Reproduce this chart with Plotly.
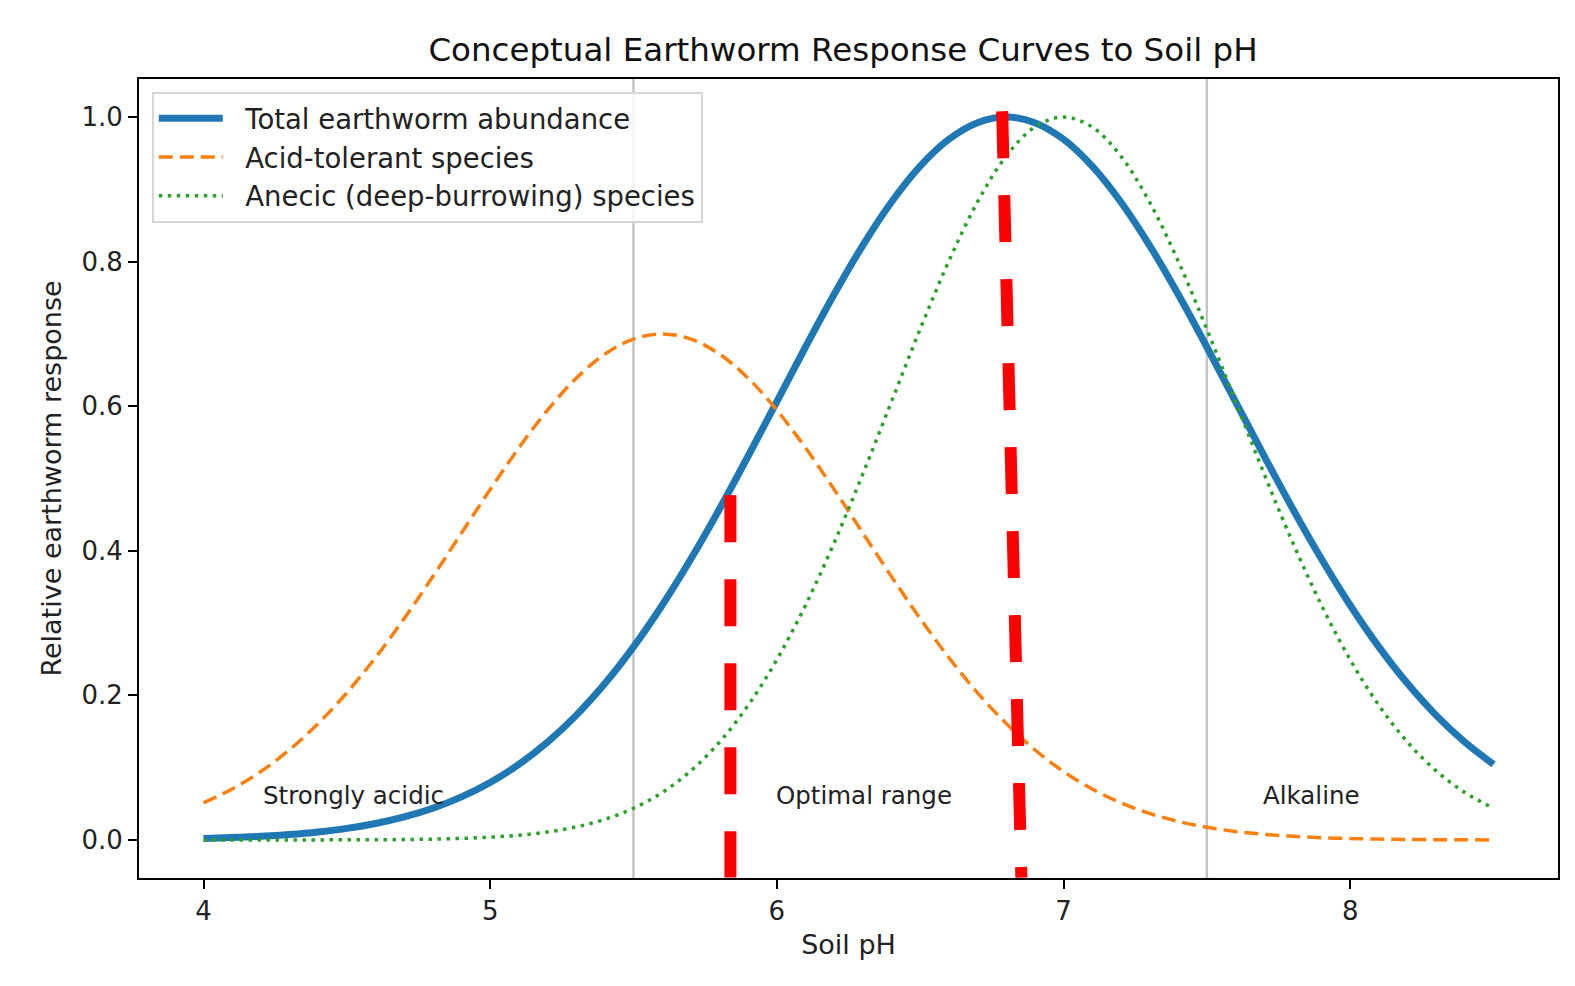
import plotly.graph_objects as go

# ---- data ----
ph = [round(4.0 + 0.1 * i, 1) for i in range(46)]  # 4.0 ... 8.5
total_abundance = [0.0022, 0.0034, 0.0051, 0.0076, 0.0111, 0.0160, 0.0228, 0.0319, 0.0439, 0.0596,
                   0.0796, 0.1046, 0.1353, 0.1724, 0.2163, 0.2671, 0.3247, 0.3886, 0.4578, 0.5311,
                   0.6065, 0.6819, 0.7548, 0.8226, 0.8825, 0.9321, 0.9692, 0.9922, 1.0000, 0.9922,
                   0.9692, 0.9321, 0.8825, 0.8226, 0.7548, 0.6819, 0.6065, 0.5311, 0.4578, 0.3886,
                   0.3247, 0.2671, 0.2163, 0.1724, 0.1353, 0.1046]
acid_tolerant = [0.0514, 0.0705, 0.0947, 0.1248, 0.1611, 0.2036, 0.2523, 0.3063, 0.3643, 0.4246,
                 0.4848, 0.5424, 0.5946, 0.6386, 0.6720, 0.6929, 0.7000, 0.6929, 0.6720, 0.6386,
                 0.5946, 0.5424, 0.4848, 0.4246, 0.3643, 0.3063, 0.2523, 0.2036, 0.1611, 0.1248,
                 0.0947, 0.0705, 0.0514, 0.0367, 0.0257, 0.0176, 0.0118, 0.0078, 0.0050, 0.0032,
                 0.0020, 0.0012, 0.0007, 0.0004, 0.0002, 0.0001]
anecic = [0.0000, 0.0000, 0.0000, 0.0000, 0.0001, 0.0002, 0.0003, 0.0006, 0.0012, 0.0022,
          0.0039, 0.0066, 0.0111, 0.0181, 0.0286, 0.0439, 0.0657, 0.0956, 0.1353, 0.1863,
          0.2494, 0.3247, 0.4111, 0.5063, 0.6065, 0.7066, 0.8007, 0.8825, 0.9460, 0.9862,
          1.0000, 0.9862, 0.9460, 0.8825, 0.8007, 0.7066, 0.6065, 0.5063, 0.4111, 0.3247,
          0.2494, 0.1863, 0.1353, 0.0956, 0.0657, 0.0439]

series_names = ["Total earthworm abundance", "Acid-tolerant species",
                "Anecic (deep-burrowing) species"]

zone_bounds = [5.5, 7.5]
zone_labels = ["Strongly acidic", "Optimal range", "Alkaline"]
zone_label_x = [4.2, 5.99, 7.69]
zone_label_y = 0.062

# hand-drawn red dashed marks (start x, start y, end x, end y)
red_mark_1 = [5.838, 0.477, 5.838, -0.052]
red_mark_2 = [6.786, 1.008, 6.853, -0.052]

x_ticks = [4, 5, 6, 7, 8]
y_ticks = [0.0, 0.2, 0.4, 0.6, 0.8, 1.0]

FONT = "DejaVu Sans"
TXT = "#222222"
OFF = 8  # page body offset of the browser
GAP = "\u00a0\u00a0"  # small gap between legend sample and label

fig = go.Figure()

fig.add_trace(go.Scatter(x=ph, y=total_abundance, mode="lines", name=GAP + series_names[0],
                         line=dict(color="#1f77b4", width=7, shape="spline")))
fig.add_trace(go.Scatter(x=ph, y=acid_tolerant, mode="lines", name=GAP + series_names[1],
                         line=dict(color="#ff7f0e", width=3.5, dash="14px,7px", shape="spline")))
fig.add_trace(go.Scatter(x=ph, y=anecic, mode="lines", name=GAP + series_names[2],
                         line=dict(color="#2ca02c", width=3.5, dash="3.5px,5.5px", shape="spline")))

for b in zone_bounds:
    fig.add_shape(type="line", xref="x", yref="paper", x0=b, x1=b, y0=0, y1=1,
                  line=dict(color="#c4c4c4", width=2.5), layer="below")

for lbl, lx in zip(zone_labels, zone_label_x):
    fig.add_annotation(x=lx, y=zone_label_y, text=lbl, showarrow=False,
                       xanchor="left", yanchor="middle",
                       font=dict(family=FONT, size=24.5, color=TXT))

for m in (red_mark_1, red_mark_2):
    fig.add_shape(type="line", xref="x", yref="y", x0=m[0], y0=m[1], x1=m[2], y1=m[3],
                  line=dict(color="#ff0000", width=12, dash="47px,37px"))

fig.update_layout(
    width=1575, height=986,
    paper_bgcolor="white", plot_bgcolor="white",
    margin=dict(l=139 - OFF, r=17 + OFF, t=79 - OFF, b=108 + OFF, autoexpand=False),
    title=dict(text="Conceptual Earthworm Response Curves to Soil pH",
               x=(843 - OFF) / 1575, xanchor="center", y=1 - (50 - OFF) / 986, yanchor="middle",
               font=dict(family=FONT, size=32.5, color="#111111")),
    font=dict(family=FONT, size=27, color=TXT),
    legend=dict(x=0.009, y=0.984, xanchor="left", yanchor="top",
                bgcolor="rgba(255,255,255,0.85)", bordercolor="#d6d6d6", borderwidth=2,
                font=dict(family=FONT, size=27.5, color=TXT),
                itemwidth=64),
    showlegend=True,
)

fig.update_xaxes(range=[3.775, 8.725], tickvals=x_ticks, ticktext=[str(t) for t in x_ticks],
                 showgrid=False, zeroline=False, showline=True, linecolor="black",
                 linewidth=2, mirror=True, ticks="outside", ticklen=9, tickwidth=2,
                 tickcolor="black", automargin=False,
                 tickfont=dict(family=FONT, size=26, color=TXT),
                 title=dict(text="Soil pH", font=dict(family=FONT, size=27, color=TXT),
                            standoff=10))
fig.update_yaxes(range=[-0.0526, 1.0526], tickvals=y_ticks, tickformat=".1f",
                 showgrid=False, zeroline=False, showline=True, linecolor="black",
                 linewidth=2, mirror=True, ticks="outside", ticklen=9, tickwidth=2,
                 tickcolor="black", automargin=False,
                 tickfont=dict(family=FONT, size=26, color=TXT),
                 title=dict(text="Relative earthworm response",
                            font=dict(family=FONT, size=27, color=TXT), standoff=12))

fig.write_html("out.html")
